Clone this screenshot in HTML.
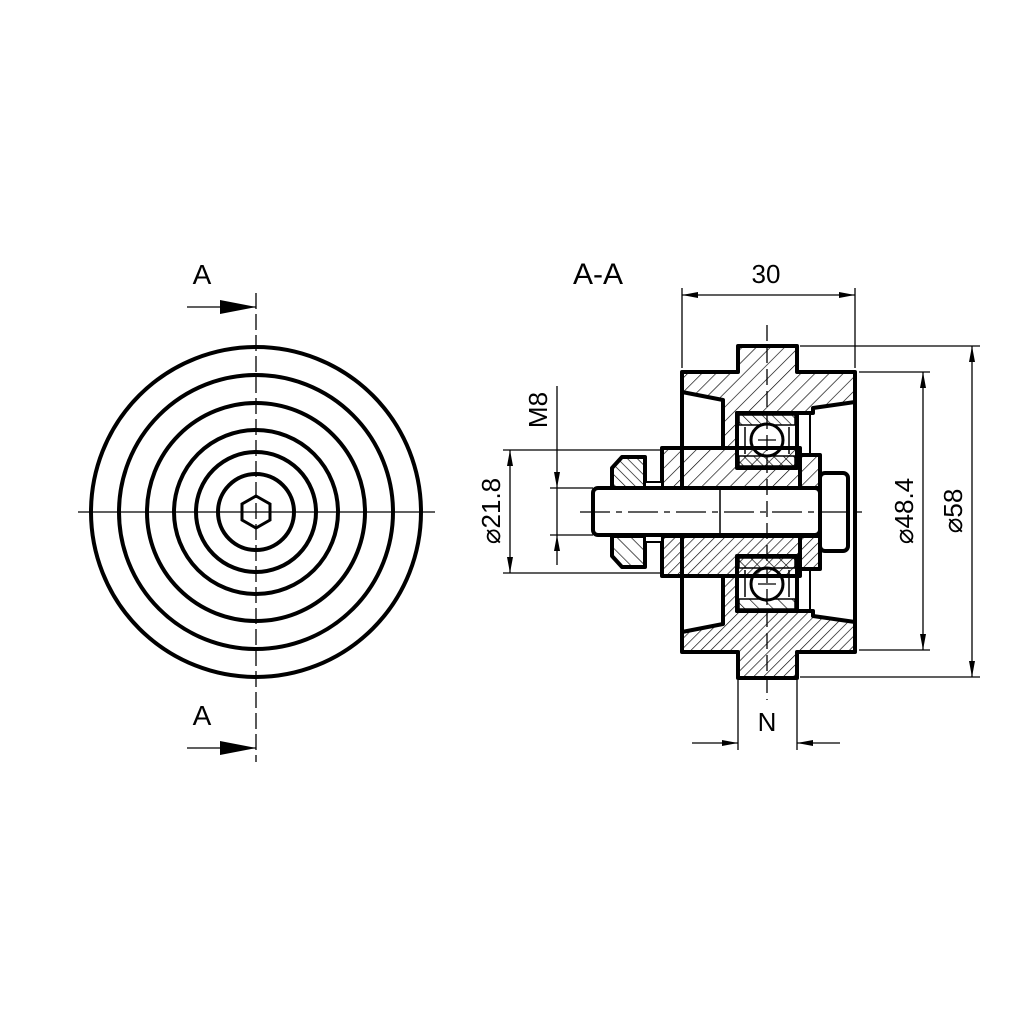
<!DOCTYPE html>
<html><head><meta charset="utf-8"><style>
html,body{margin:0;padding:0;background:#fff}
svg{display:block}
text{font-family:"Liberation Sans",sans-serif;fill:#000}
.ha{fill:var(--a,url(#h))}
.hb{fill:var(--b,url(#h2))}
</style></head><body>
<svg width="1024" height="1024" viewBox="0 0 1024 1024" xmlns="http://www.w3.org/2000/svg">
<defs>
<pattern id="h" patternUnits="userSpaceOnUse" width="10" height="10" patternTransform="rotate(45)">
<line x1="0" y1="0" x2="0" y2="10" stroke="#000" stroke-width="1.3"/></pattern>
<pattern id="h2" patternUnits="userSpaceOnUse" width="7" height="7" patternTransform="rotate(-45)">
<line x1="0" y1="0" x2="0" y2="7" stroke="#000" stroke-width="1.3"/></pattern>
<marker id="ar" markerWidth="16" markerHeight="8" refX="16" refY="4" orient="auto" markerUnits="userSpaceOnUse">
<path d="M0,1 L16,4 L0,7 Z" fill="#000"/></marker>
<marker id="al" markerWidth="16" markerHeight="8" refX="0" refY="4" orient="auto" markerUnits="userSpaceOnUse">
<path d="M16,1 L0,4 L16,7 Z" fill="#000"/></marker>
</defs>

<g fill="none" stroke="#000" stroke-width="4">
<circle cx="256" cy="512" r="165"/>
<circle cx="256" cy="512" r="137"/>
<circle cx="256" cy="512" r="109"/>
<circle cx="256" cy="512" r="82"/>
<circle cx="256" cy="512" r="60"/>
<circle cx="256" cy="512" r="38"/>
<polygon points="256,496 270,504 270,520 256,528 242,520 242,504" stroke-width="3"/>
</g>
<line x1="78" y1="512" x2="435" y2="512" stroke="#000" stroke-width="1.3"/>
<line x1="256" y1="293" x2="256" y2="762" stroke="#000" stroke-width="1.3" stroke-dasharray="16,5"/>
<line x1="187" y1="307" x2="256" y2="307" stroke="#000" stroke-width="1.3"/>
<path d="M220,300 L256,307 L220,314 Z" fill="#000"/>
<line x1="187" y1="748" x2="256" y2="748" stroke="#000" stroke-width="1.3"/>
<path d="M220,741 L256,748 L220,755 Z" fill="#000"/>
<text x="202" y="284" font-size="28" text-anchor="middle">A</text>
<text x="202" y="725" font-size="28" text-anchor="middle">A</text>

<text x="598" y="284" font-size="30" text-anchor="middle">A-A</text>

<g stroke="#000" stroke-width="4" stroke-linejoin="round">
 <g id="half">
  <path class="ha" d="M682,372 H738 V346 H797 V372 H855 V402 L813,408 V413 H737 V448 H723 V400 L682,392 Z"/>
  <rect x="737" y="413" width="60" height="55" fill="#fff"/>
  <rect class="hb" x="739" y="415" width="56" height="10" stroke-width="1.5"/>
  <rect class="hb" x="739" y="456" width="56" height="10" stroke-width="1.5"/>
  <circle cx="767" cy="440" r="16" fill="#fff" stroke-width="3"/>
  <line x1="745" y1="427" x2="745" y2="454" stroke-width="1.5"/>
  <line x1="789" y1="427" x2="789" y2="454" stroke-width="1.5"/>
  <line x1="810" y1="413" x2="810" y2="455" stroke-width="2"/>
  <rect class="ha" x="662" y="448" width="138" height="40"/>
  <rect class="ha" x="800" y="455" width="20" height="33"/>
  <path class="hb" d="M612,488 V468 L622,457 H645 V488 Z"/>
  <rect x="645" y="482" width="17" height="6" fill="#fff" stroke-width="2"/>
 </g>
 <use href="#half" transform="translate(0,1024) scale(1,-1)" style="--a:url(#h2);--b:url(#h)"/>
 <line x1="682" y1="372" x2="682" y2="652" />
 <line x1="855" y1="372" x2="855" y2="652" />
 <rect x="820" y="473" width="28" height="78" rx="5" fill="#fff"/>
 <rect x="593" y="488" width="227" height="47" rx="5" fill="#fff"/>
 <line x1="720" y1="490" x2="720" y2="533" stroke-width="1.5"/>
</g>
<line x1="580" y1="512" x2="862" y2="512" stroke="#000" stroke-width="1.3" stroke-dasharray="30,6,6,6"/>
<line x1="767" y1="325" x2="767" y2="700" stroke="#000" stroke-width="1.3" stroke-dasharray="16,6"/>
<line x1="758" y1="440" x2="776" y2="440" stroke="#000" stroke-width="1.2"/>
<line x1="758" y1="584" x2="776" y2="584" stroke="#000" stroke-width="1.2"/>

<g stroke="#000" stroke-width="1.3" fill="none">
 <line x1="682" y1="288" x2="682" y2="368"/>
 <line x1="855" y1="288" x2="855" y2="368"/>
 <line x1="682" y1="295" x2="855" y2="295" marker-start="url(#al)" marker-end="url(#ar)"/>
 <line x1="859" y1="372" x2="930" y2="372"/>
 <line x1="859" y1="650" x2="930" y2="650"/>
 <line x1="923" y1="372" x2="923" y2="650" marker-start="url(#al)" marker-end="url(#ar)"/>
 <line x1="800" y1="346" x2="980" y2="346"/>
 <line x1="800" y1="677" x2="980" y2="677"/>
 <line x1="972" y1="346" x2="972" y2="677" marker-start="url(#al)" marker-end="url(#ar)"/>
 <line x1="503" y1="450" x2="660" y2="450"/>
 <line x1="503" y1="573" x2="660" y2="573"/>
 <line x1="510" y1="450" x2="510" y2="573" marker-start="url(#al)" marker-end="url(#ar)"/>
 <line x1="550" y1="488" x2="593" y2="488"/>
 <line x1="550" y1="535" x2="593" y2="535"/>
 <line x1="557" y1="386" x2="557" y2="488" marker-end="url(#ar)"/>
 <line x1="557" y1="565" x2="557" y2="535" marker-end="url(#ar)"/>
 <line x1="557" y1="488" x2="557" y2="535"/>
 <line x1="738" y1="680" x2="738" y2="750"/>
 <line x1="797" y1="680" x2="797" y2="750"/>
 <line x1="692" y1="743" x2="738" y2="743" marker-end="url(#ar)"/>
 <line x1="840" y1="743" x2="797" y2="743" marker-end="url(#ar)"/>
</g>
<text x="766" y="283" font-size="26" text-anchor="middle">30</text>
<text x="767" y="731" font-size="26" text-anchor="middle">N</text>
<text transform="translate(913,511) rotate(-90)" font-size="26" text-anchor="middle">⌀48.4</text>
<text transform="translate(962,511) rotate(-90)" font-size="26" text-anchor="middle">⌀58</text>
<text transform="translate(500,511) rotate(-90)" font-size="26" text-anchor="middle">⌀21.8</text>
<text transform="translate(547,410) rotate(-90)" font-size="26" text-anchor="middle">M8</text>
</svg>
</body></html>
